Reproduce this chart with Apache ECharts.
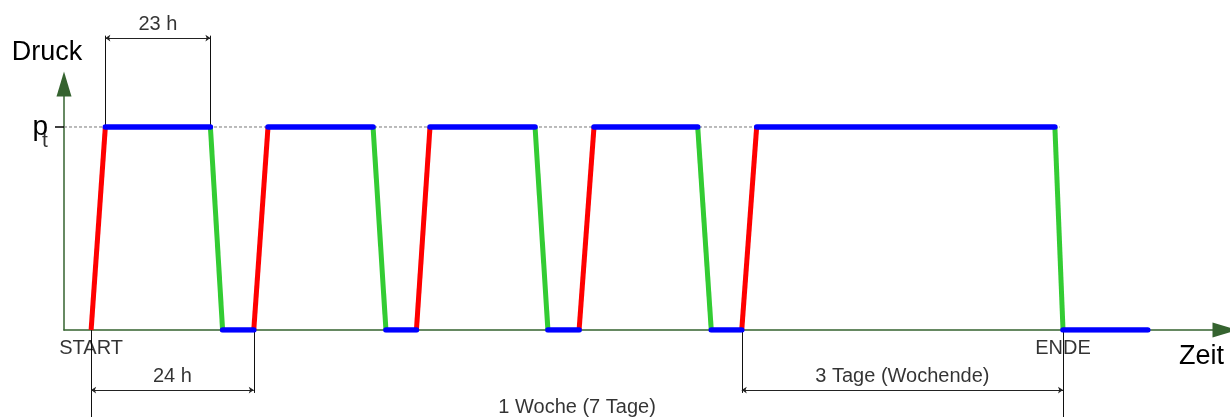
<!DOCTYPE html>
<html><head><meta charset="utf-8">
<script src="https://cdn.jsdelivr.net/npm/echarts@6/dist/echarts.min.js"></script>
<style>html,body{margin:0;padding:0;background:#fff}#c{width:1230px;height:417px}</style>
</head><body><div id="c"></div>
<script>
// time in hours from START, pressure relative to test pressure p_t (=1)
const cycleStart = [0, 24, 48, 72, 96];
const riseEnd    = [2.1, 26.1, 50.0, 74.2, 98.2];
const fallStart  = [17.6, 41.6, 65.5, 89.5, 142.2];
const fallEnd    = [19.4, 43.5, 67.4, 91.5, 143.4];
const idleEnd    = [24, 48, 72, 96, 155.9];
const pTest = 1;
const ptLineEnd = 142.9;
const xMin = -4, xMax = 167.3;

// dimension annotations
const dimText  = ['23 h', '24 h', '3 Tage (Wochende)', '1 Woche (7 Tage)'];
const dimFrom  = [2.1, 0, 96, 0];
const dimTo    = [17.6, 24, 143.4, 143.4];
const dimLevel = [1.438, -0.296, -0.296, -0.45];
const extX     = [2.1, 17.6, 0, 24, 96, 143.4];
const extFrom  = [1, 1, 0, 0, 0, 0];
const extTo    = [1.45, 1.45, -0.45, -0.31, -0.31, -0.45];
const markText = ['START', 'ENDE'];
const markX    = [0, 143.4];

const FONT = 'Liberation Sans, Arial, sans-serif';

const redData = cycleStart.map((s, i) => ({coords: [[s, 0], [riseEnd[i], pTest]]}));
const greenData = fallStart.map((s, i) => ({coords: [[s, pTest], [fallEnd[i], 0]]}));
const blueData = [];
riseEnd.forEach((r, i) => {
  blueData.push({coords: [[r, pTest], [fallStart[i], pTest]]});
  blueData.push({coords: [[fallEnd[i], 0], [idleEnd[i], 0]]});
});
const dimData = dimText.map((t, i) => ({coords: [[dimFrom[i], dimLevel[i]], [dimTo[i], dimLevel[i]]]}));
const extData = extX.map((x, i) => ({coords: [[x, extFrom[i]], [x, extTo[i]]]}));
const dimLabelData = dimText.map((t, i) => [(dimFrom[i] + dimTo[i]) / 2, dimLevel[i]]);
const markData = markX.map(x => [x, 0]);

const chart = echarts.init(document.getElementById('c'), null, {renderer: 'canvas'});
chart.setOption({
  animation: false,
  backgroundColor: '#fff',
  grid: {left: 64, right: 5, top: 84, bottom: 87, containLabel: false},
  xAxis: {
    type: 'value', min: xMin, max: xMax,
    axisLine: {show: true, onZero: false, symbol: ['none', 'triangle'], symbolSize: [15, 25],
      lineStyle: {color: '#35632f', width: 1.5}},
    axisTick: {show: false}, axisLabel: {show: false}, splitLine: {show: false}
  },
  yAxis: {
    type: 'value', min: 0, max: 1.2118,
    axisLine: {show: true, onZero: false, symbol: ['none', 'triangle'], symbolSize: [15, 25],
      lineStyle: {color: '#35632f', width: 1.5}},
    axisTick: {show: true, customValues: [pTest], length: 9, lineStyle: {color: '#000', width: 1.5}},
    axisLabel: {
      show: true, customValues: [pTest], margin: 16,
      formatter: () => 'p',
      fontSize: 28, fontFamily: FONT, color: '#000',
      padding: [0, 0, 5, 0]
    },
    splitLine: {show: false}
  },
  graphic: [
    {type: 'text', x: 47, y: 53, style: {text: 'Druck', font: '27px ' + FONT, fill: '#000', textAlign: 'center', textVerticalAlign: 'middle'}},
    {type: 'text', x: 1179, y: 357, style: {text: 'Zeit', font: '27px ' + FONT, fill: '#000', textAlign: 'left', textVerticalAlign: 'middle'}}
  ],
  series: [
    {type: 'line', data: [[xMin, pTest], [ptLineEnd, pTest]], symbol: 'none', silent: true,
      lineStyle: {color: '#777', width: 1, type: [3, 2]}, z: 1},
    {type: 'lines', coordinateSystem: 'cartesian2d', clip: false, data: extData, silent: true,
      lineStyle: {color: '#111', width: 1, opacity: 1}, z: 1},
    {type: 'lines', coordinateSystem: 'cartesian2d', clip: false, data: dimData, silent: true,
      symbol: ['arrow', 'arrow'], symbolSize: 5,
      lineStyle: {color: '#222', width: 1, opacity: 1}, z: 1},
    {type: 'lines', coordinateSystem: 'cartesian2d', data: redData, silent: true,
      lineStyle: {color: '#ff0000', width: 5, opacity: 1, cap: 'butt'}, z: 3},
    {type: 'lines', coordinateSystem: 'cartesian2d', data: greenData, silent: true,
      lineStyle: {color: '#33cc33', width: 5, opacity: 1, cap: 'butt'}, z: 3},
    {type: 'lines', coordinateSystem: 'cartesian2d', data: blueData, silent: true,
      lineStyle: {color: '#0000ff', width: 5.5, opacity: 1, cap: 'round'}, z: 4},
    {type: 'scatter', clip: false, data: dimLabelData, symbolSize: 1, silent: true,
      itemStyle: {color: 'rgba(0,0,0,0)'},
      label: {show: true, position: 'inside', offset: [0, -14], formatter: p => dimText[p.dataIndex],
        fontSize: 20, fontFamily: FONT, color: '#000'}, z: 5},
    {type: 'scatter', clip: false, data: markData, symbolSize: 1, silent: true,
      itemStyle: {color: 'rgba(0,0,0,0)'},
      label: {show: true, position: 'inside', offset: [0, 18], formatter: p => markText[p.dataIndex],
        fontSize: 20, fontFamily: FONT, color: '#000'}, z: 5},
    // subscript "t" of the p_t tick label
    {type: 'scatter', clip: false, data: [[xMin, pTest]], symbolSize: 1, silent: true,
      itemStyle: {color: 'rgba(0,0,0,0)'},
      label: {show: true, position: 'inside', offset: [-19, 14], formatter: 't',
        fontSize: 21, fontFamily: FONT, color: '#000'}, z: 5}
  ]
});
</script></body></html>
